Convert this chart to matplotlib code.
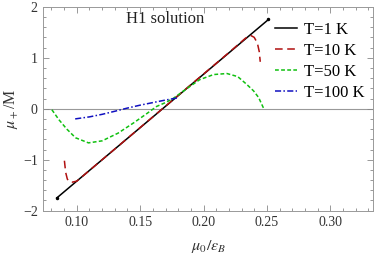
import numpy as np
import matplotlib
matplotlib.use("Agg")
import matplotlib.pyplot as plt
from matplotlib.ticker import MultipleLocator

plt.rcParams['font.family'] = ['Liberation Serif', 'DejaVu Serif']
plt.rcParams['mathtext.fontset'] = 'stix'

# T=1 K (straight line)
x1 = [0.0842, 0.2513]
y1 = [-1.75, 1.75]

# T=10 K
x10 = [0.0902, 0.0912, 0.0925, 0.0940, 0.0965, 0.100, 0.130, 0.160, 0.190, 0.220, 0.233, 0.237, 0.240, 0.2425, 0.2440, 0.2448]
y10 = [-1.02, -1.25, -1.38, -1.43, -1.44, -1.42, -0.79, -0.16, 0.47, 1.10, 1.38, 1.44, 1.40, 1.29, 1.12, 0.92]

# T=50 K
x50 = [0.0803, 0.086, 0.0921, 0.099, 0.1092, 0.120, 0.1325, 0.1447, 0.155, 0.163, 0.170, 0.176, 0.186, 0.197, 0.208, 0.2185, 0.227, 0.234, 0.2395, 0.2435, 0.2474]
y50 = [-0.02, -0.22, -0.40, -0.57, -0.67, -0.63, -0.48, -0.28, -0.10, 0.045, 0.12, 0.20, 0.38, 0.57, 0.67, 0.69, 0.63, 0.48, 0.35, 0.22, 0.01]

# T=100 K
x100 = [0.0987, 0.110, 0.120, 0.130, 0.1395, 0.150, 0.160, 0.170, 0.179]
y100 = [-0.20, -0.16, -0.11, -0.05, 0.01, 0.07, 0.12, 0.17, 0.21]

labels = ['T=1 K', 'T=10 K', 'T=50 K', 'T=100 K']

fig = plt.figure(figsize=(3.74, 2.54), dpi=100)
ax = fig.add_axes([0.116, 0.1705, 0.882, 0.803])

ax.axhline(0, color='#999999', lw=0.8, zorder=0)
ax.plot(x1, y1, color='black', lw=1.1, label=labels[0], zorder=2)
ax.plot(x10, y10, color='#b01010', lw=1.1, dashes=(5, 3), label=labels[1], zorder=3)
ax.plot(x50, y50, color='#10c010', lw=1.1, dashes=(2.5, 1.5), label=labels[2], zorder=3)
ax.plot(x100, y100, color='#1010c0', lw=1.1, dashes=(4, 1.5, 1, 1.5), label=labels[3], zorder=3)
ax.plot([x1[0], x1[1]], [y1[0], y1[1]], 'o', color='black', ms=1.5, zorder=4)

ax.set_xlim(0.0736, 0.334)
ax.set_ylim(-2, 2)
ax.xaxis.set_minor_locator(MultipleLocator(0.01))
ax.yaxis.set_minor_locator(MultipleLocator(0.2))
ax.set_xticks([0.10, 0.15, 0.20, 0.25, 0.30])
ax.set_xticklabels(['0.10', '0.15', '0.20', '0.25', '0.30'])
ax.set_yticks([-2, -1, 0, 1, 2])
ax.set_yticklabels(['\u22122', '\u22121', '0', '1', '2'])

ax.tick_params(which='both', direction='in', top=True, right=True, colors='#888888',
               labelcolor='#333333', labelsize=10, width=0.6)
ax.tick_params(which='major', length=4, pad=4)
ax.tick_params(which='minor', length=2)
for s in ax.spines.values():
    s.set_color('#999999')
    s.set_linewidth(0.7)

ax.set_xlabel(r'$\mu_0/\epsilon_B$', fontsize=11.5, color='#333333', labelpad=6)
ax.set_ylabel(r'$\mu_+$/M', fontsize=11.5, color='#333333', labelpad=2)

ax.text(0.170, 1.75, 'H1 solution', fontsize=12, ha='center', va='center', color='#222222')

ax.legend(loc='upper right', frameon=False, fontsize=12, handlelength=1.3,
          handletextpad=0.45, labelspacing=0.3, borderaxespad=0.1,
          bbox_to_anchor=(1.0, 0.965))

fig.savefig('out.png', dpi=100)
